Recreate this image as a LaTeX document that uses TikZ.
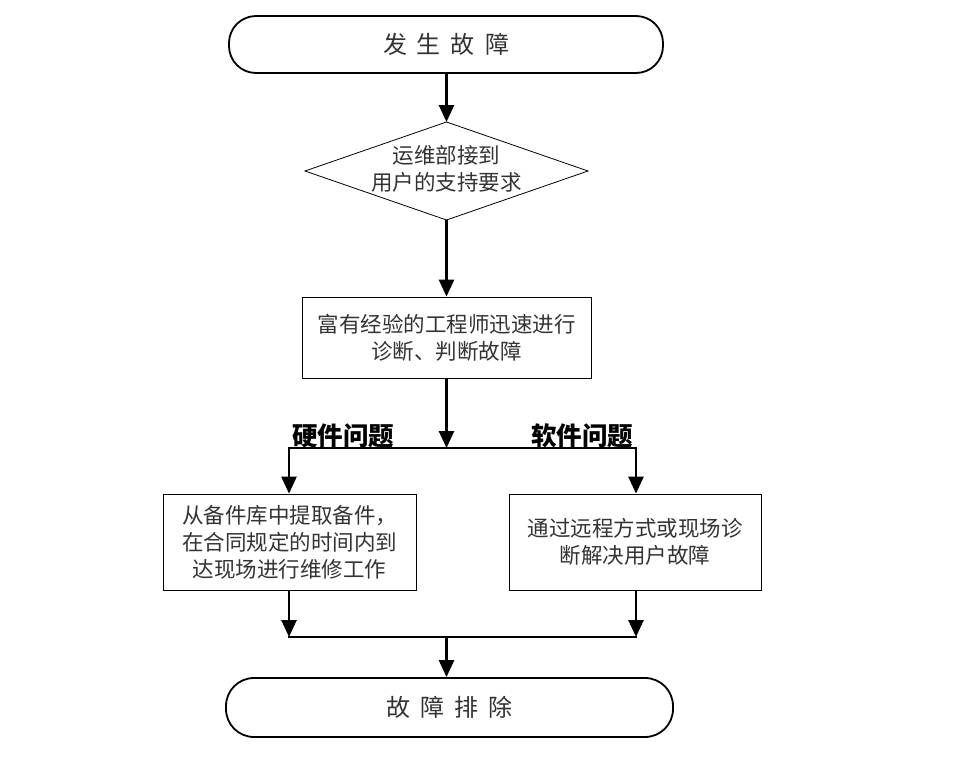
\documentclass[tikz,border=0pt]{standalone}
\usepackage{fontspec}
\setmainfont{Noto Sans CJK SC}
\usetikzlibrary{arrows.meta,shapes.geometric}
\begin{document}
\begin{tikzpicture}[x=1pt,y=-1pt,
  txt/.style={font=\fontsize{21.5}{27}\selectfont, text=black!80, align=center},
  term/.style={draw, line width=1.8pt, rounded corners=27pt, minimum height=57pt, inner sep=0pt, font=\fontsize{24}{28}\selectfont, text=black!80},
  procbox/.style={draw, line width=0.8pt, inner sep=0pt, txt},
  flow/.style={line width=2.6pt, -{Triangle[length=17pt,width=15pt]}},
  plain/.style={line width=2.6pt},
  lbl/.style={font=\bfseries\fontsize{25.5}{28}\selectfont, text=black, inner sep=0pt}
]
\useasboundingbox (0,0) rectangle (975,758);
\node[term, minimum width=434pt] (start) at (446,44.5) {发\hspace{10pt}生\hspace{10pt}故\hspace{10pt}障};
\draw[line width=0.8pt] (305,171) coordinate (dl) -- (446.5,122) coordinate (dt) -- (588,171) coordinate (dr) -- (446.5,220) coordinate (db) -- cycle;
\node[txt] (dectext) at (446.5,169) {运维部接到\\用户的支持要求};
\node[procbox, minimum width=289pt, minimum height=81pt] (diag) at (446.5,337.5) {富有经验的工程师迅速进行\\诊断、判断故障};
\node[procbox, minimum width=253pt, minimum height=96pt] (hw) at (289.5,542) {从备件库中提取备件，\\在合同规定的时间内到\\达现场进行维修工作};
\node[procbox, minimum width=252pt, minimum height=96pt] (sw) at (635,542) {通过远程方式或现场诊\\断解决用户故障};
\node[term, minimum width=447pt, minimum height=59pt, rounded corners=28pt] (end) at (449.5,707.5) {故\hspace{10pt}障\hspace{10pt}排\hspace{10pt}除};
\coordinate (split) at (446.5,448);
\coordinate (splitL) at (289,448);
\coordinate (splitR) at (636,448);
\coordinate (joinL) at (289,637);
\coordinate (joinR) at (636,637);
\coordinate (join) at (446.5,637);
\draw[flow] (start.south -| dt) -- (dt);
\draw[flow] (db) -- (diag.north);
\draw[flow] (diag.south) -- (split);
\draw[plain] ([xshift=-1.3pt]splitL) -- ([xshift=1.3pt]splitR);
\draw[flow] (splitL) -- (splitL |- hw.north);
\draw[flow] (splitR) -- (splitR |- sw.north);
\draw[flow] (splitL |- hw.south) -- (joinL);
\draw[flow] (splitR |- sw.south) -- (joinR);
\draw[plain] ([xshift=-1.3pt]joinL) -- ([xshift=1.3pt]joinR);
\draw[flow] (join) -- (join |- end.north);
\node[lbl] (lblhw) at (343,436) {硬件问题};
\node[lbl] (lblsw) at (582,436) {软件问题};
\end{tikzpicture}
\end{document}
